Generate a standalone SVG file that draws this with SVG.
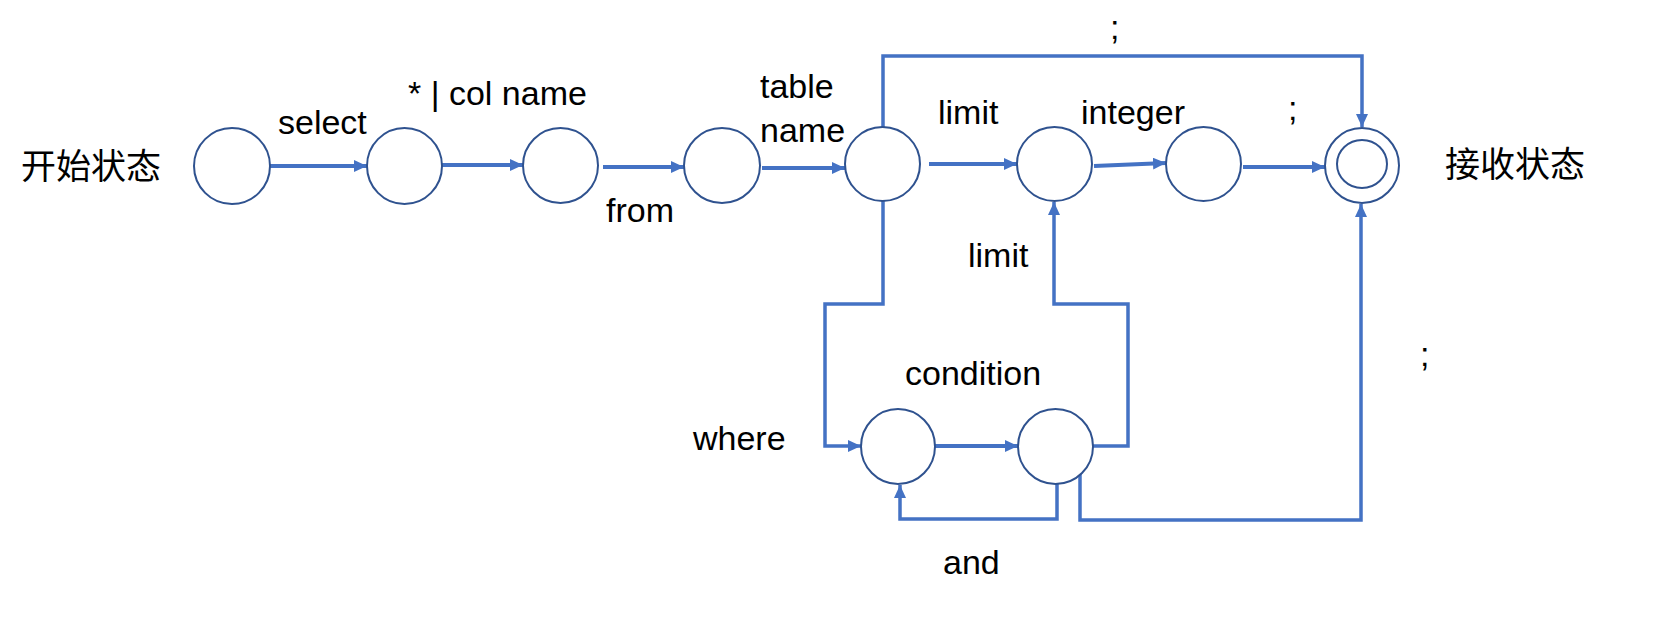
<svg xmlns="http://www.w3.org/2000/svg" width="1658" height="624" viewBox="0 0 1658 624">
<style>
.st{fill:#fff;stroke:#2F528F;stroke-width:2}
.ln{fill:none;stroke:#4472C4;stroke-width:4}
.rt{fill:none;stroke:#4472C4;stroke-width:3.5}
.t{font-family:"Liberation Sans",Arial,sans-serif;font-size:34px;fill:#000}
.cjk{font-family:"Noto Sans CJK SC","Noto Sans CJK JP",sans-serif;font-size:35px;fill:#000}
</style>
<defs>
<marker id="ar" markerUnits="userSpaceOnUse" markerWidth="14" markerHeight="12" refX="13" refY="6" orient="auto">
<path d="M0,0 L13,6 L0,12 Z" fill="#4472C4"/>
</marker>
</defs>
<rect width="1658" height="624" fill="#fff"/>
<g id="connectors">
<line class="ln" x1="270" y1="166" x2="367" y2="166" marker-end="url(#ar)"/>
<line class="ln" x1="442" y1="165" x2="523" y2="165" marker-end="url(#ar)"/>
<line class="ln" x1="603" y1="167" x2="684" y2="167" marker-end="url(#ar)"/>
<line class="ln" x1="762" y1="168" x2="845" y2="168" marker-end="url(#ar)"/>
<line class="ln" x1="929" y1="164" x2="1017" y2="164" marker-end="url(#ar)"/>
<line class="ln" x1="1094" y1="166" x2="1166" y2="163" marker-end="url(#ar)"/>
<line class="ln" x1="1243" y1="167" x2="1325" y2="167" marker-end="url(#ar)"/>
<path class="rt" d="M883,127 V56 H1362 V127" marker-end="url(#ar)"/>
<path class="rt" d="M883,201 V304 H825 V446 H861" marker-end="url(#ar)"/>
<line class="ln" x1="935" y1="446" x2="1018" y2="446" marker-end="url(#ar)"/>
<path class="rt" d="M1093,446 H1128 V304 H1054 V202" marker-end="url(#ar)"/>
<path class="rt" d="M1057,484 V519 H900 V485" marker-end="url(#ar)"/>
<path class="rt" d="M1080,472 V520 H1361 V204" marker-end="url(#ar)"/>
</g>
<g id="n1"><ellipse class="st" cx="232" cy="166" rx="38" ry="38"/></g>
<g id="n2"><ellipse class="st" cx="404.5" cy="166" rx="37.5" ry="38"/></g>
<g id="n3"><ellipse class="st" cx="560.5" cy="165.5" rx="37.5" ry="37.5"/></g>
<g id="n4"><ellipse class="st" cx="722" cy="165.5" rx="38" ry="37.5"/></g>
<g id="n5"><ellipse class="st" cx="882.5" cy="164" rx="37.5" ry="37"/></g>
<g id="n6"><ellipse class="st" cx="1054.5" cy="164" rx="37.5" ry="37"/></g>
<g id="n7"><ellipse class="st" cx="1203.5" cy="164" rx="37.5" ry="37"/></g>
<g id="n8"><ellipse class="st" cx="1362" cy="165.5" rx="37" ry="37.5"/><ellipse class="st" cx="1362" cy="164" rx="25" ry="24"/></g>
<g id="n9"><ellipse class="st" cx="898" cy="446.5" rx="37" ry="37.5"/></g>
<g id="n10"><ellipse class="st" cx="1055.5" cy="446.5" rx="37.5" ry="37.5"/></g>
<g id="labels">
<text class="cjk" x="21" y="179">开始状态</text>
<text class="cjk" x="1445" y="177">接收状态</text>
<text class="t" x="278" y="134">select</text>
<text class="t" x="408" y="105">* | col name</text>
<text class="t" x="760" y="98">table</text>
<text class="t" x="760" y="142">name</text>
<text class="t" x="606" y="222">from</text>
<text class="t" x="938" y="124">limit</text>
<text class="t" x="1081" y="124">integer</text>
<text class="t" x="1288" y="120">;</text>
<text class="t" x="1110" y="39">;</text>
<text class="t" x="1420" y="366">;</text>
<text class="t" x="968" y="267">limit</text>
<text class="t" x="905" y="385">condition</text>
<text class="t" x="693" y="450">where</text>
<text class="t" x="943" y="574">and</text>
</g>
</svg>
